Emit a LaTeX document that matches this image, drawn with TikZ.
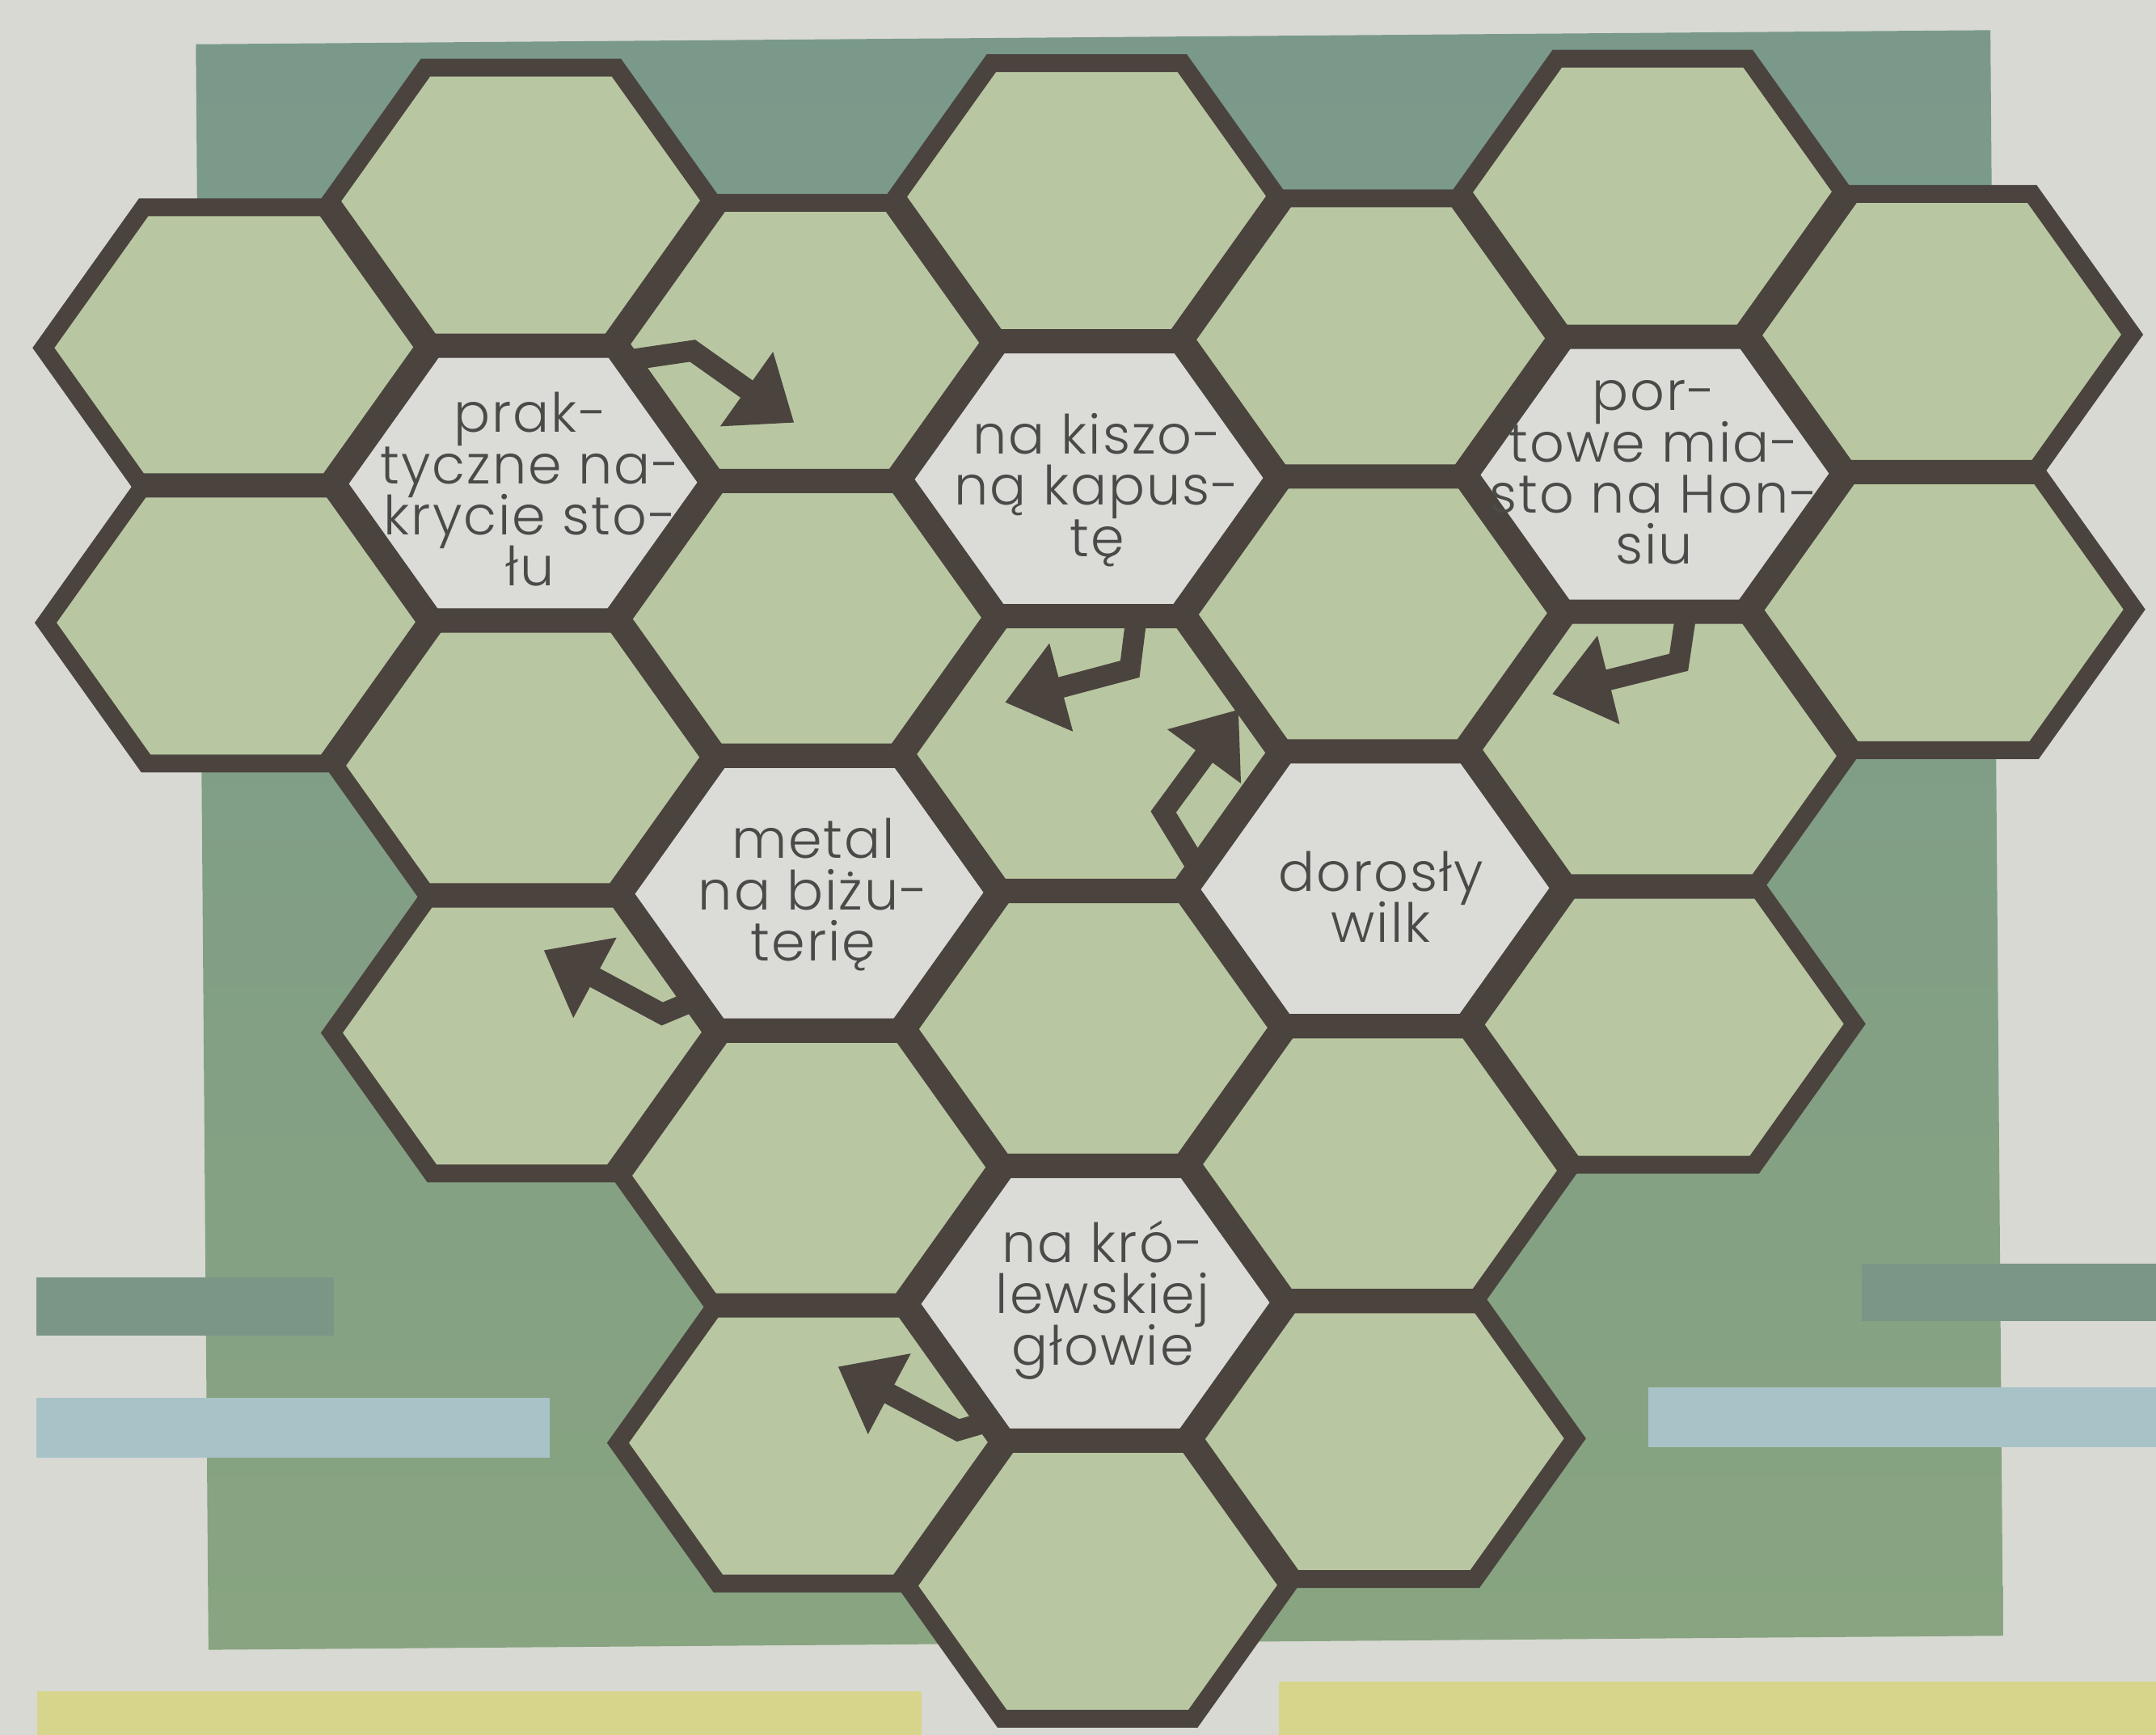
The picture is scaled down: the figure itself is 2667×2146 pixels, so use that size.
\documentclass[tikz,border=0pt]{standalone}
\usepackage{fontspec}
\IfFontExistsTF{Poppins Light}{\setmainfont{Poppins Light}[LetterSpace=3]}{\setmainfont{Poppins}[LetterSpace=3]}
\usetikzlibrary{arrows.meta}
\AtBeginDocument{\setlength{\lineskiplimit}{-50pt}}
\definecolor{paper}{HTML}{D8D9D3}
\definecolor{bgtop}{HTML}{7A998B}
\definecolor{bgbot}{HTML}{88A480}
\definecolor{hexfill}{HTML}{B8C7A2}
\definecolor{cluefill}{HTML}{DBDCD8}
\definecolor{edge}{HTML}{4B433E}
\definecolor{ink}{HTML}{4A4A48}
\definecolor{barteal}{HTML}{7B9587}
\definecolor{barblue}{HTML}{A8C3C7}
\definecolor{baryellow}{HTML}{D7D58B}
\tikzset{
  hexcell/.pic={\path[pic actions] (-242,0) -- (-118,-174) -- (118,-174) -- (242,0) -- (118,174) -- (-118,174) -- cycle;},
  plainfill/.style={fill=hexfill},
  cluefill/.style={fill=cluefill},
  cellborder/.style={draw=edge, line width=0.22cm, line join=miter},
  cluetext/.style={text=ink, align=center, inner sep=0pt,
    font=\fontsize{19}{18}\selectfont},
  bendarrow/.style={draw=edge, line width=0.26cm, line join=miter, -{Triangle[length=0.72cm, width=1.08cm]}},
}
\def\plainlist{301/422,301/762,
  651/252,651/932,651/1272,
  1001/422,1001/762,1001/1442,1001/1782,
  1351/252,1351/932,1351/1272,1351/1952,
  1701/422,1701/762,1701/1442,1701/1782,
  2051/252,2051/932,2051/1272,
  2401/422,2401/762}
\def\cluelist{651/592,1351/592,2051/592,1001/1102,1701/1102,1351/1612}
\begin{document}
\begin{tikzpicture}[x=0.01cm,y=-0.01cm]
\useasboundingbox (0,0) rectangle (2667,2146);
\fill[paper] (0,0) rectangle (2667,2146);
\begin{scope}[rotate around={0.45:(1358,1040)}]
\shade[top color=bgtop, bottom color=bgbot] (250,46) rectangle (2470,2032);
\end{scope}
% bars
\fill[barteal] (45,1580) rectangle (413,1652);
\fill[barblue] (45,1729) rectangle (680,1803);
\fill[barteal] (2303,1563) rectangle (2667,1634);
\fill[barblue] (2039,1716) rectangle (2667,1790);
\fill[baryellow] (46,2092) rectangle (1140,2146);
\fill[baryellow] (1582,2080) rectangle (2667,2146);
\begin{scope}[rotate around={0.45:(1351,1102)}]
% cell fills
\foreach \x/\y in \plainlist \pic[plainfill] at (\x,\y) {hexcell};
\foreach \x/\y in \cluelist \pic[cluefill] at (\x,\y) {hexcell};
% cell borders
\foreach \x/\y in \plainlist \pic[cellborder] at (\x,\y) {hexcell};
\foreach \x/\y in \cluelist \pic[cellborder] at (\x,\y) {hexcell};
% clue texts
\node[cluetext] (prak) at (660,600) {prak-\\tyczne na-\\krycie sto-\\łu};
\node[cluetext] (kiszo) at (1361,606) {na kiszo-\\ną kapus-\\tę};
\node[cluetext] (port) at (2050,590) {por-\\towe mia-\\sto na Hon-\\siu};
\node[cluetext] (metal) at (1006,1104) {metal\\na biżu-\\terię};
\node[cluetext] (wilk) at (1708,1112) {dorosły\\wilk};
\node[cluetext] (krol) at (1360,1608) {na kró-\\lewskiej\\głowie};
% arrows
\coordinate (a1s) at (776,442); \coordinate (a1b) at (862,430); \coordinate (a1t) at (987,520);
\coordinate (a2s) at (1408,768); \coordinate (a2b) at (1400,828); \coordinate (a2t) at (1245,868);
\coordinate (a3s) at (2088,768); \coordinate (a3b) at (2079,825); \coordinate (a3t) at (1922,863);
\coordinate (a4s) at (1482,1075); \coordinate (a4b) at (1440,1005); \coordinate (a4t) at (1534,879);
\coordinate (a5s) at (862,1232); \coordinate (a5b) at (818,1250); \coordinate (a5t) at (672,1170);
\coordinate (a6s) at (1226,1755); \coordinate (a6b) at (1180,1768); \coordinate (a6t) at (1032,1688);
\draw[bendarrow] (a1s) -- (a1b) -- (a1t);
\draw[bendarrow] (a2s) -- (a2b) -- (a2t);
\draw[bendarrow] (a3s) -- (a3b) -- (a3t);
\draw[bendarrow] (a4s) -- (a4b) -- (a4t);
\draw[bendarrow] (a5s) -- (a5b) -- (a5t);
\draw[bendarrow] (a6s) -- (a6b) -- (a6t);
\end{scope}
\end{tikzpicture}
\end{document}
